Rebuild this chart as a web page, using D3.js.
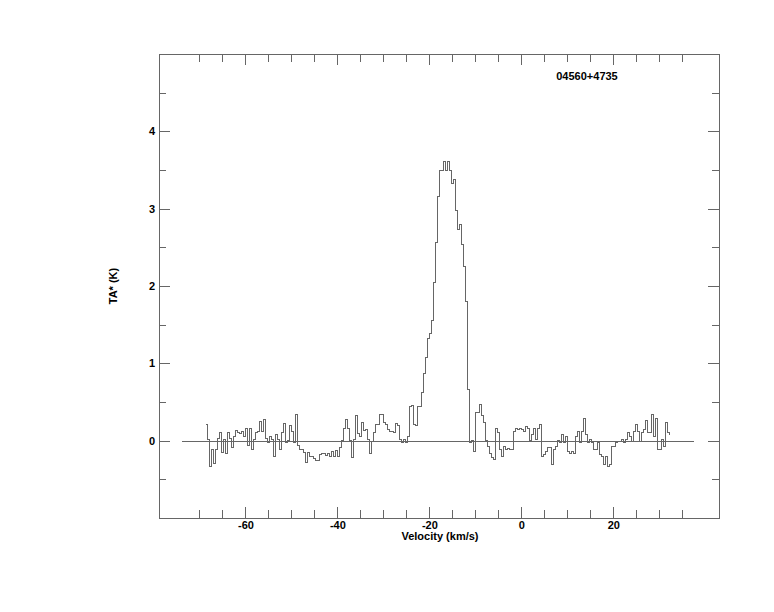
<!DOCTYPE html>
<html>
<head>
<meta charset="utf-8">
<script src="https://cdn.jsdelivr.net/npm/d3@7"></script>
<style>
  html, body { margin: 0; padding: 0; background: #fff; }
  svg { display: block; }
  text { font-family: "Liberation Sans", Arial, Helvetica, sans-serif; font-weight: bold; fill: #000; }
</style>
</head>
<body>
<svg id="chart" width="774" height="612"></svg>
<script>
// ---- data ----
const title = "04560+4735";
const xLabel = "Velocity (km/s)";
const yLabel = "TA* (K)";

const xDomain = [-78.8, 43.0];
const yDomain = [-1.0, 5.0];
const xMajorTicks = [-60, -40, -20, 0, 20];
const xMinorTicks = [-70, -65, -55, -50, -45, -35, -30, -25, -15, -10, -5, 5, 10, 15, 25, 30, 35];
const yMajorTicks = [0, 1, 2, 3, 4];
const yMinorTicks = [-0.5, 0.5, 1.5, 2.5, 3.5, 4.5];
const baselineRange = [-73.7, 37.5];

const velocity = [
 -68.48,-68.05,-67.61,-67.18,-66.74,-66.31,-65.87,-65.44,-65.00,-64.57,
 -64.13,-63.70,-63.26,-62.83,-62.39,-61.96,-61.52,-61.09,-60.65,-60.22,
 -59.78,-59.35,-58.91,-58.48,-58.04,-57.61,-57.17,-56.74,-56.30,-55.87,
 -55.44,-55.01,-54.57,-54.14,-53.70,-53.27,-52.83,-52.40,-51.96,-51.53,
 -51.09,-50.66,-50.22,-49.79,-49.35,-48.92,-48.48,-48.05,-47.61,-47.18,
 -46.74,-46.31,-45.87,-45.44,-45.00,-44.57,-44.13,-43.70,-43.26,-42.83,
 -42.39,-41.96,-41.52,-41.09,-40.65,-40.22,-39.78,-39.35,-38.91,-38.48,
 -38.04,-37.61,-37.17,-36.74,-36.30,-35.87,-35.43,-35.00,-34.56,-34.13,
 -33.70,-33.27,-32.83,-32.40,-31.96,-31.53,-31.09,-30.66,-30.22,-29.79,
 -29.35,-28.92,-28.48,-28.05,-27.61,-27.18,-26.74,-26.31,-25.87,-25.44,
 -25.00,-24.57,-24.13,-23.70,-23.26,-22.83,-22.39,-21.96,-21.52,-21.09,
 -20.65,-20.22,-19.78,-19.35,-18.91,-18.48,-18.04,-17.61,-17.17,-16.74,
 -16.30,-15.87,-15.43,-15.00,-14.56,-14.13,-13.69,-13.26,-12.82,-12.39,
 -11.96,-11.53,-11.09,-10.66,-10.22,-9.79,-9.35,-8.92,-8.48,-8.05,
 -7.61,-7.18,-6.74,-6.31,-5.87,-5.44,-5.00,-4.57,-4.13,-3.70,
 -3.26,-2.83,-2.39,-1.96,-1.52,-1.09,-0.65,-0.22,0.22,0.65,
 1.09,1.52,1.96,2.39,2.83,3.26,3.70,4.13,4.57,5.00,
 5.44,5.87,6.31,6.74,7.18,7.61,8.05,8.48,8.92,9.35,
 9.78,10.21,10.65,11.08,11.52,11.95,12.39,12.82,13.26,13.69,
 14.13,14.56,15.00,15.43,15.87,16.30,16.74,17.17,17.61,18.04,
 18.48,18.91,19.35,19.78,20.22,20.65,21.09,21.52,21.96,22.39,
 22.83,23.26,23.70,24.13,24.57,25.00,25.44,25.87,26.31,26.74,
 27.18,27.61,28.05,28.48,28.92,29.35,29.79,30.22,30.66,31.09,
 31.52,31.95,32.39
];

const antennaTemp = [
 0.21,0.02,-0.33,-0.12,-0.30,-0.11,0.03,0.10,-0.15,0.01,
 -0.16,0.11,0.03,-0.09,0.05,0.13,0.11,0.09,0.12,0.06,
 0.16,-0.06,0.16,-0.12,0.01,0.10,0.12,0.25,0.12,0.27,
 0.03,-0.02,0.06,0.02,-0.20,0.08,0.02,-0.12,0.10,0.22,
 -0.03,0.00,0.19,0.12,-0.03,0.34,-0.06,-0.11,-0.12,-0.15,
 -0.28,-0.15,-0.21,-0.21,-0.23,-0.25,-0.26,-0.18,-0.16,-0.17,
 -0.19,-0.16,-0.20,-0.14,-0.20,-0.13,-0.20,-0.09,0.00,0.16,
 0.28,0.16,0.00,-0.22,0.01,0.32,0.09,0.06,0.23,0.13,
 0.14,0.01,-0.16,-0.01,0.10,0.21,0.21,0.34,0.34,0.23,
 0.21,0.14,0.12,0.12,0.10,0.22,0.19,0.01,-0.02,0.01,
 -0.02,0.06,0.44,0.45,0.21,0.19,0.44,0.44,0.62,0.87,
 1.08,1.32,1.39,1.55,2.04,2.56,3.16,3.49,3.49,3.61,
 3.49,3.61,3.49,3.32,3.38,2.97,2.73,2.79,2.54,2.25,
 1.80,0.66,-0.02,0.00,-0.14,0.36,0.36,0.47,0.32,0.23,
 0.00,-0.07,-0.16,-0.22,-0.24,0.16,0.10,-0.12,-0.20,-0.07,
 -0.12,-0.10,-0.12,-0.12,0.12,0.16,0.14,0.16,0.14,0.12,
 0.18,0.16,0.00,0.08,0.16,0.01,0.16,0.21,-0.21,-0.18,
 -0.14,-0.09,-0.09,-0.31,-0.12,-0.07,0.00,-0.03,0.08,-0.03,
 0.06,-0.14,-0.16,-0.14,-0.16,0.06,0.12,-0.03,0.12,0.29,
 0.08,-0.03,0.01,-0.03,-0.11,-0.12,-0.03,-0.18,-0.20,-0.31,
 -0.20,-0.33,-0.31,-0.07,-0.07,-0.03,-0.01,-0.01,0.01,-0.03,
 0.01,0.10,0.06,-0.01,0.12,0.21,0.12,-0.01,0.10,0.14,
 0.26,0.10,0.11,0.34,0.06,0.29,-0.12,-0.12,0.01,-0.07,
 0.23,0.10,0.08
];

// ---- drawing ----
const svg = d3.select("#chart");
const frame = { left: 159, right: 719, top: 54, bottom: 518 };
const lineColor = "#666";

const x = d3.scaleLinear().domain(xDomain).range([frame.left, frame.right]);
const y = d3.scaleLinear().domain(yDomain).range([frame.bottom, frame.top]);

const g = svg.append("g").attr("shape-rendering", "crispEdges");

// frame
g.append("rect")
  .attr("x", frame.left + 0.5).attr("y", frame.top + 0.5)
  .attr("width", frame.right - frame.left).attr("height", frame.bottom - frame.top)
  .attr("fill", "none").attr("stroke", lineColor).attr("stroke-width", 1);

function styleAxis(sel) {
  sel.select(".domain").remove();
  sel.selectAll(".tick line").attr("stroke", lineColor);
  sel.selectAll(".tick text")
    .attr("font-size", "11px")
    .attr("font-family", '"Liberation Sans", Arial, sans-serif')
    .attr("font-weight", "bold")
    .attr("fill", "#000");
}
const plainFormat = d => String(d);

// bottom axis (major with labels, minor without)
g.append("g").attr("transform", `translate(0,${frame.bottom})`)
  .call(d3.axisTop(x).tickValues(xMajorTicks).tickSize(11).tickFormat(""))
  .call(styleAxis);
g.append("g").attr("transform", `translate(0,${frame.bottom})`)
  .call(d3.axisTop(x).tickValues(xMinorTicks).tickSize(8).tickFormat(""))
  .call(styleAxis);
g.append("g").attr("transform", `translate(0,${frame.bottom})`)
  .call(d3.axisBottom(x).tickValues(xMajorTicks).tickSize(0).tickPadding(3).tickFormat(plainFormat))
  .call(styleAxis);

// top axis
g.append("g").attr("transform", `translate(0,${frame.top})`)
  .call(d3.axisBottom(x).tickValues(xMajorTicks).tickSize(11).tickFormat(""))
  .call(styleAxis);
g.append("g").attr("transform", `translate(0,${frame.top})`)
  .call(d3.axisBottom(x).tickValues(xMinorTicks).tickSize(8).tickFormat(""))
  .call(styleAxis);

// left axis
g.append("g").attr("transform", `translate(${frame.left},0)`)
  .call(d3.axisRight(y).tickValues(yMajorTicks).tickSize(11).tickFormat(""))
  .call(styleAxis);
g.append("g").attr("transform", `translate(${frame.left},0)`)
  .call(d3.axisRight(y).tickValues(yMinorTicks).tickSize(7).tickFormat(""))
  .call(styleAxis);
g.append("g").attr("transform", `translate(${frame.left},0)`)
  .call(d3.axisLeft(y).tickValues(yMajorTicks).tickSize(0).tickPadding(4).tickFormat(plainFormat))
  .call(styleAxis);

// right axis
g.append("g").attr("transform", `translate(${frame.right},0)`)
  .call(d3.axisLeft(y).tickValues(yMajorTicks).tickSize(11).tickFormat(""))
  .call(styleAxis);
g.append("g").attr("transform", `translate(${frame.right},0)`)
  .call(d3.axisLeft(y).tickValues(yMinorTicks).tickSize(7).tickFormat(""))
  .call(styleAxis);

// zero baseline
g.append("line")
  .attr("x1", x(baselineRange[0])).attr("x2", x(baselineRange[1]))
  .attr("y1", Math.round(y(0)) + 0.5).attr("y2", Math.round(y(0)) + 0.5)
  .attr("stroke", lineColor).attr("stroke-width", 1);

// spectrum (histogram step line)
const spec = velocity.map((v, i) => ({ v, t: antennaTemp[i] }));
const line = d3.line().x(d => x(d.v)).y(d => y(d.t)).curve(d3.curveStep);
g.append("path")
  .datum(spec)
  .attr("d", line)
  .attr("fill", "none")
  .attr("stroke", lineColor)
  .attr("stroke-width", 1);

// labels
svg.append("text")
  .attr("x", 587).attr("y", 80)
  .attr("text-anchor", "middle").attr("font-size", "11px")
  .text(title);

svg.append("text")
  .attr("x", 440).attr("y", 540)
  .attr("text-anchor", "middle").attr("font-size", "11px")
  .text(xLabel);

svg.append("text")
  .attr("transform", "translate(117,286) rotate(-90)")
  .attr("text-anchor", "middle").attr("font-size", "11px")
  .text(yLabel);
</script>
</body>
</html>
